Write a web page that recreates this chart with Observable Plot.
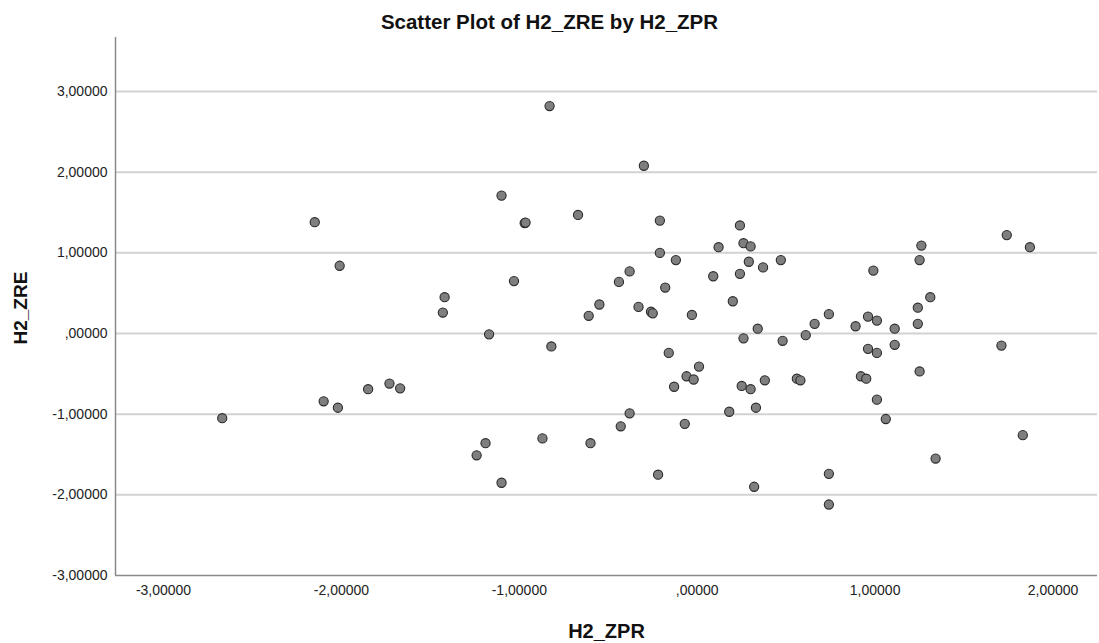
<!DOCTYPE html>
<html>
<head>
<meta charset="utf-8">
<script src="https://cdn.jsdelivr.net/npm/d3@7"></script>
<script src="https://cdn.jsdelivr.net/npm/@observablehq/plot@0.6"></script>
<style>
  html, body { margin: 0; padding: 0; background: #fff; }
  #title { width: 1099px; height: 30px; box-sizing: border-box; padding-top: 10px; text-align: center;
    font-family: "Liberation Sans", Arial, sans-serif; font-weight: bold; font-size: 20.5px; color: #111; line-height: normal; }
  #chart svg { display: block; overflow: visible; }
</style>
</head>
<body>
<div id="title">Scatter Plot of H2_ZRE by H2_ZPR</div>
<div id="chart"></div>
<script>
const titleText = "Scatter Plot of H2_ZRE by H2_ZPR";
const xLabel = "H2_ZPR";
const yLabel = "H2_ZRE";
const xTicks = [-3, -2, -1, 0, 1, 2];
const yTicks = [-3, -2, -1, 0, 1, 2, 3];

const zpr = [
  -2.67, -2.15, -2.01, -2.10, -2.02, -1.85,
  -1.73, -1.67, -0.83, -1.10, -0.97, -0.965, -0.67, -1.03, -1.42, -1.43, -1.17, -0.82, -0.61, -0.55, -0.44,
  -1.19, -1.24, -1.10, -0.87, -0.60, -0.43,
  -0.30, -0.21, -0.21, -0.12, -0.38, -0.18, -0.33, -0.26, -0.25, -0.03, -0.16, 0.01, -0.06, -0.02, -0.13,
  -0.38, -0.07, -0.22, 0.12, 0.24, 0.26, 0.30, 0.29, 0.24, 0.37, 0.47, 0.09, 0.20, 0.34, 0.26, 0.48,
  0.61, 0.66, 0.74, 0.89, 0.25, 0.30, 0.38, 0.56, 0.58, 0.92, 0.18, 0.33, 0.32, 0.74, 0.74,
  1.74, 1.87, 1.26, 1.25, 0.99, 1.31, 1.24, 1.24, 0.96, 1.01, 1.11, 0.96, 1.01, 1.11, 1.71, 1.25,
  0.95, 1.01, 1.06, 1.83, 1.34
];
const zre = [
  -1.05, 1.38, 0.84, -0.84, -0.92, -0.69,
  -0.62, -0.68, 2.82, 1.71, 1.37, 1.375, 1.47, 0.65, 0.45, 0.26, -0.01, -0.16, 0.22, 0.36, 0.64,
  -1.36, -1.51, -1.85, -1.30, -1.36, -1.15,
  2.08, 1.40, 1.00, 0.91, 0.77, 0.57, 0.33, 0.27, 0.25, 0.23, -0.24, -0.41, -0.53, -0.57, -0.66,
  -0.99, -1.12, -1.75, 1.07, 1.34, 1.12, 1.08, 0.89, 0.74, 0.82, 0.91, 0.71, 0.40, 0.06, -0.06, -0.09,
  -0.02, 0.12, 0.24, 0.09, -0.65, -0.69, -0.58, -0.56, -0.58, -0.53, -0.97, -0.92, -1.90, -1.74, -2.12,
  1.22, 1.07, 1.09, 0.91, 0.78, 0.45, 0.32, 0.12, 0.21, 0.16, 0.06, -0.19, -0.24, -0.14, -0.15, -0.47,
  -0.56, -0.82, -1.06, -1.26, -1.55
];

const data = zpr.map((x, i) => ({x, y: zre[i]}));
const xDomain = [-3.27, 2.25];
const yDomain = [-3, 3.67];

function fmt(d) {
  let s = Math.abs(d).toFixed(5).replace(".", ",");
  if (s.startsWith("0,")) s = s.slice(1);
  return (d < 0 ? "-" : "") + s;
}

const font = "'Liberation Sans', Arial, sans-serif";

const chart = Plot.plot({
  width: 1099,
  height: 613,
  marginLeft: 115,
  marginRight: 2,
  marginTop: 7,
  marginBottom: 68,
  style: {fontFamily: font, fontSize: "14px", color: "#222", background: "#fff"},
  x: {domain: xDomain},
  y: {domain: yDomain},
  marks: [
    Plot.ruleY(yTicks.filter(d => d > yDomain[0]), {stroke: "#d2d2d2", strokeWidth: 2}),
    Plot.ruleY([yDomain[0]], {stroke: "#8a8a8a", strokeWidth: 1.5}),
    Plot.ruleX([xDomain[0]], {stroke: "#8a8a8a", strokeWidth: 1.5}),
    Plot.axisX({ticks: xTicks, tickFormat: fmt, tickSize: 0, tickPadding: 10, label: null, fontSize: 14}),
    Plot.axisY({ticks: yTicks, tickFormat: fmt, tickSize: 0, tickPadding: 8, label: null, fontSize: 14}),
    Plot.dot(data, {x: "x", y: "y", r: 4.6, fill: "#7f7f7f", stroke: "#2a2a2a", strokeWidth: 1.1}),
    Plot.text([xLabel], {frameAnchor: "bottom", dy: 56, text: d => d, fontSize: 20, fontWeight: "bold", fill: "#111", lineAnchor: "middle"}),
    Plot.text([yLabel], {frameAnchor: "left", dx: -95, dy: 38, rotate: -90, text: d => d, fontSize: 19, fontWeight: "bold", fill: "#111", lineAnchor: "middle"})
  ]
});
document.getElementById("chart").appendChild(chart);
</script>
</body>
</html>
